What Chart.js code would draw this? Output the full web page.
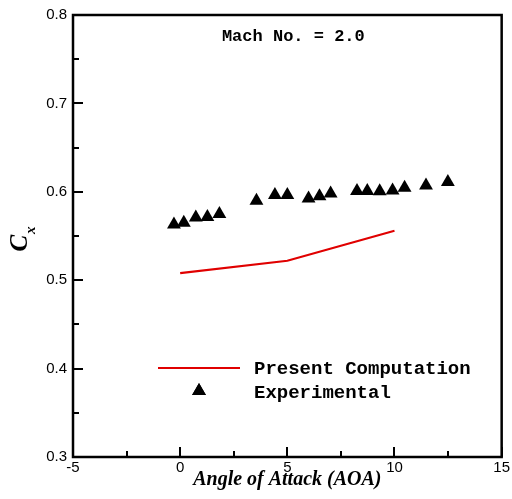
<!DOCTYPE html>
<html>
<head>
<meta charset="utf-8">
<script src="https://cdn.jsdelivr.net/npm/chart.js@4/dist/chart.umd.min.js"></script>
<style>
  html, body { margin: 0; padding: 0; background: #fff; }
  #c { display: block; }
</style>
</head>
<body>
<canvas id="c" width="512" height="499"></canvas>
<script>
// ---- Data ----
const computationAOA = [0, 5, 10];
const computationCx  = [0.508, 0.522, 0.556];

const experimentalAOA = [-0.29, 0.17, 0.73, 1.27, 1.83, 3.56, 4.42, 5.0, 5.99, 6.5, 7.02, 8.25, 8.73, 9.31, 9.91, 10.47, 11.47, 12.49];
const experimentalCx  = [0.563, 0.565, 0.571, 0.5715, 0.575, 0.590, 0.5965, 0.5965, 0.5925, 0.595, 0.598, 0.601, 0.601, 0.6005, 0.6015, 0.6045, 0.607, 0.611];

const xTicks = [-5, 0, 5, 10, 15];
const yTicks = [0.3, 0.4, 0.5, 0.6, 0.7, 0.8];
const seriesNames = ['Present Computation', 'Experimental'];
const annotationText = 'Mach No. = 2.0';
const xTitle = 'Angle of Attack (AOA)';
const yTitleMain = 'C';
const yTitleSub = 'x';

const RED = '#e00000';
const MONO = '"Liberation Mono", "Courier New", monospace';
const SERIF = '"Liberation Serif", "Times New Roman", serif';
const SANS = '"Liberation Sans", Arial, sans-serif';

const zip = (xs, ys) => xs.map((x, i) => ({ x: x, y: ys[i] }));

// Frame, inside ticks, titles, annotation and legend
const decorPlugin = {
  id: 'decor',
  afterDraw(chart) {
    const ctx = chart.ctx;
    const a = chart.chartArea;
    const xs = chart.scales.x, ys = chart.scales.y;
    ctx.save();
    // ticks inside
    ctx.strokeStyle = '#000';
    ctx.lineWidth = 2;
    for (let v = xTicks[0]; v <= xTicks[xTicks.length - 1] + 1e-9; v += 2.5) {
      const major = Math.abs(v % 5) < 1e-9;
      const px = Math.round(xs.getPixelForValue(v));
      ctx.beginPath();
      ctx.moveTo(px, a.bottom);
      ctx.lineTo(px, a.bottom - (major ? 10 : 6));
      ctx.stroke();
    }
    for (let i = 0; i <= 10; i++) {
      const v = yTicks[0] + i * 0.05;
      const major = i % 2 === 0;
      const py = Math.round(ys.getPixelForValue(v));
      ctx.beginPath();
      ctx.moveTo(a.left, py);
      ctx.lineTo(a.left + (major ? 10 : 6), py);
      ctx.stroke();
    }
    // frame
    ctx.lineWidth = 2.5;
    ctx.strokeRect(a.left, a.top, a.right - a.left, a.bottom - a.top);

    // annotation
    ctx.fillStyle = '#000';
    ctx.font = 'bold 17px ' + MONO;
    ctx.textAlign = 'center';
    ctx.textBaseline = 'middle';
    ctx.fillText(annotationText, (a.left + a.right) / 2 + 6, a.top + 22);

    // x title
    ctx.font = 'bold italic 20px ' + SERIF;
    ctx.textBaseline = 'alphabetic';
    ctx.fillText(xTitle, (a.left + a.right) / 2, chart.height - 14);

    // y title with subscript
    ctx.save();
    ctx.font = 'bold italic 25px ' + SERIF;
    const wC = ctx.measureText(yTitleMain).width;
    ctx.font = 'bold italic 15px ' + SERIF;
    const wx = ctx.measureText(yTitleSub).width;
    const total = wC + 1 + wx;
    const cy = (a.top + a.bottom) / 2 + 3;
    ctx.translate(27, cy + total / 2);
    ctx.rotate(-Math.PI / 2);
    ctx.textAlign = 'left';
    ctx.font = 'bold italic 25px ' + SERIF;
    ctx.fillText(yTitleMain, 0, 0);
    ctx.font = 'bold italic 15px ' + SERIF;
    ctx.fillText(yTitleSub, wC + 1, 8);
    ctx.restore();

    // legend
    const lx0 = a.left + 85, lx1 = a.left + 167;
    const ly0 = a.top + 353, ly1 = a.top + 376;
    ctx.strokeStyle = RED;
    ctx.lineWidth = 2;
    ctx.beginPath();
    ctx.moveTo(lx0, ly0);
    ctx.lineTo(lx1, ly0);
    ctx.stroke();
    Chart.helpers.drawPoint(ctx, { pointStyle: 'triangle', radius: 8, rotation: 0, borderWidth: 0 }, (lx0 + lx1) / 2, ly1);
    ctx.fillStyle = '#000';
    ctx.fill();
    ctx.font = 'bold 19px ' + MONO;
    ctx.textAlign = 'left';
    ctx.textBaseline = 'middle';
    ctx.fillText(seriesNames[0], lx1 + 14, ly0 + 1);
    ctx.fillText(seriesNames[1], lx1 + 14, ly1 + 2);
    ctx.restore();
  }
};

new Chart(document.getElementById('c'), {
  type: 'scatter',
  data: {
    datasets: [
      {
        label: seriesNames[0],
        type: 'line',
        data: zip(computationAOA, computationCx),
        borderColor: RED,
        borderWidth: 2.2,
        pointRadius: 0,
        fill: false,
        tension: 0
      },
      {
        label: seriesNames[1],
        data: zip(experimentalAOA, experimentalCx),
        pointStyle: 'triangle',
        pointRadius: 8,
        backgroundColor: '#000',
        borderColor: '#000',
        borderWidth: 0
      }
    ]
  },
  options: {
    responsive: false,
    animation: false,
    devicePixelRatio: 1,
    layout: { padding: { top: 15, right: 10, left: 0, bottom: 0 } },
    plugins: { legend: { display: false }, tooltip: { enabled: false } },
    scales: {
      x: {
        type: 'linear',
        min: xTicks[0],
        max: xTicks[xTicks.length - 1],
        afterBuildTicks: s => { s.ticks = xTicks.map(v => ({ value: v })); },
        afterFit: s => { s.height = 42; },
        grid: { display: false, drawTicks: false },
        border: { display: false },
        ticks: { color: '#000', padding: 2, font: { family: SANS, size: 15 }, maxRotation: 0, autoSkip: false }
      },
      y: {
        type: 'linear',
        min: yTicks[0],
        max: yTicks[yTicks.length - 1],
        afterBuildTicks: s => { s.ticks = yTicks.map(v => ({ value: v })); },
        afterFit: s => { s.width = 73; },
        grid: { display: false, drawTicks: false },
        border: { display: false },
        ticks: { color: '#000', padding: 6, font: { family: SANS, size: 15 }, autoSkip: false,
                 callback: v => Number(v).toFixed(1) }
      }
    }
  },
  plugins: [decorPlugin]
});
</script>
</body>
</html>
